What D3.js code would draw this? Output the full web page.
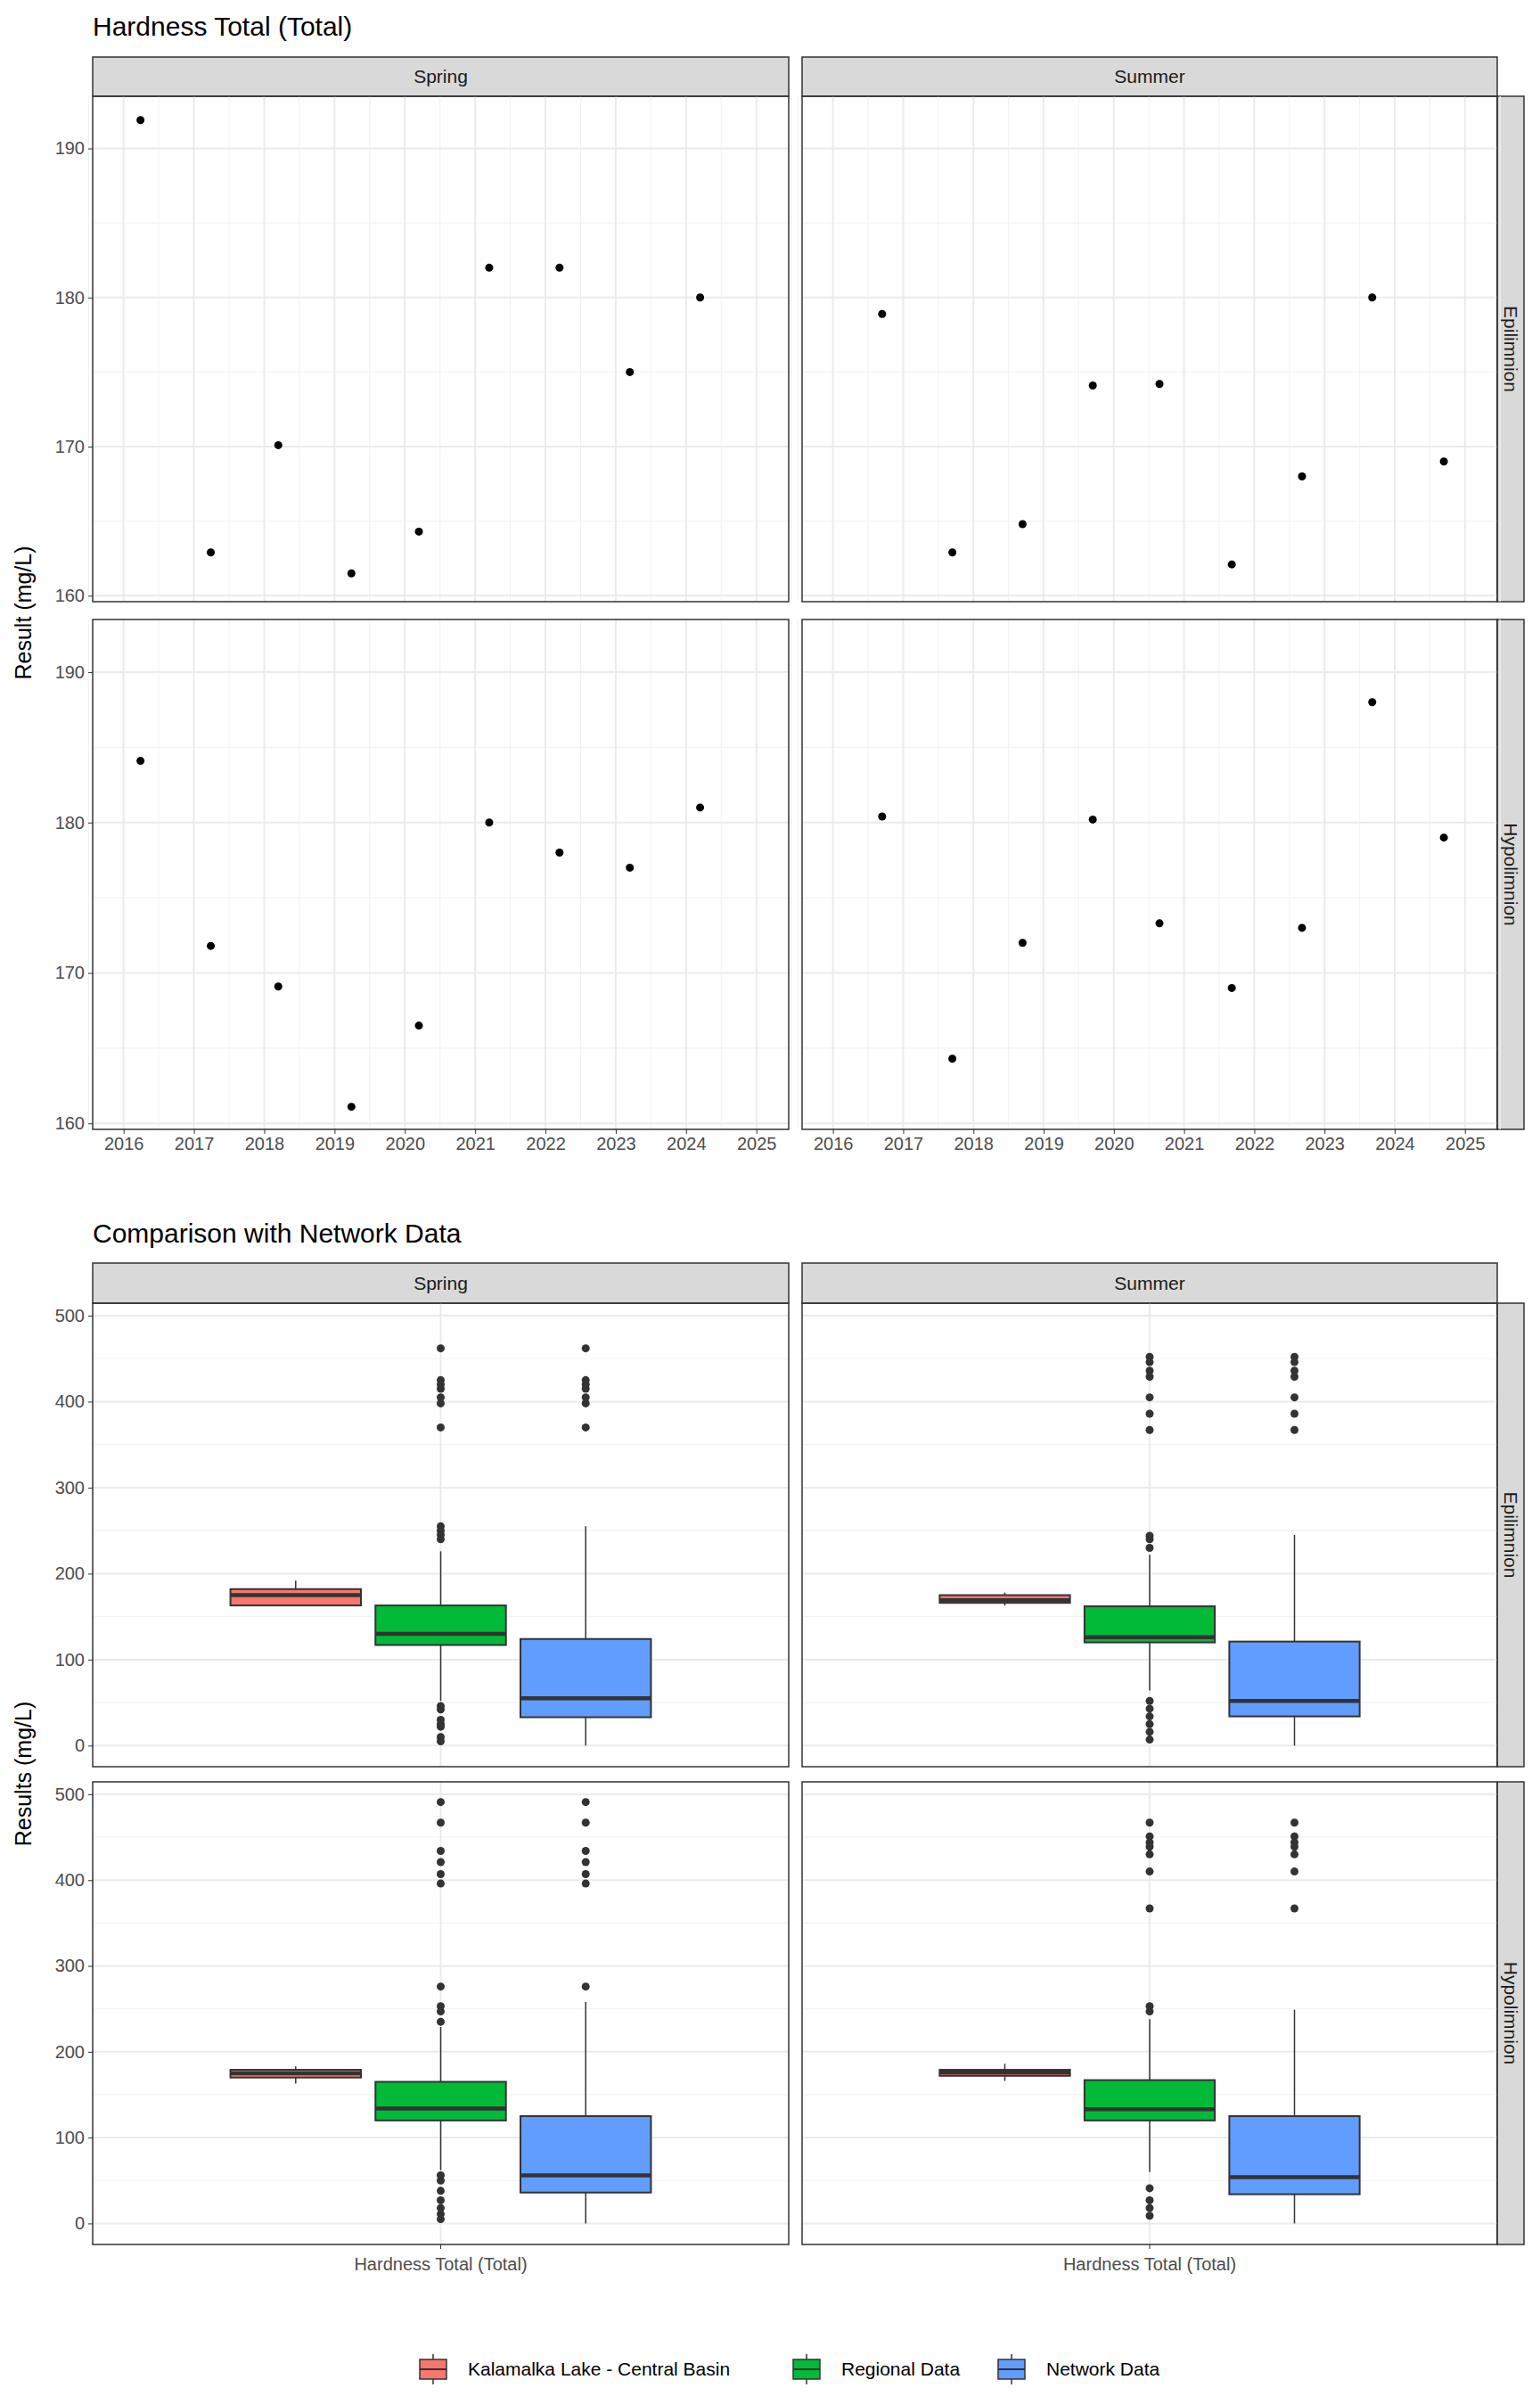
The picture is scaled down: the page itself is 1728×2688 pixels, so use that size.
<!DOCTYPE html>
<html><head><meta charset="utf-8">
<script src="https://cdn.jsdelivr.net/npm/d3@7"></script>
<style>body{margin:0;background:#fff}text{font-family:"Liberation Sans",Arial,sans-serif}</style>
</head><body><div id="container"></div>
<script>
const W = 1728, H = 2688;
const seasons = ["Spring", "Summer"];
const depths = ["Epilimnion", "Hypolimnion"];
const yearTicks = [2016, 2017, 2018, 2019, 2020, 2021, 2022, 2023, 2024, 2025];
const springDates = [2016.24, 2017.24, 2018.2, 2019.24, 2020.2, 2021.2, 2022.2, 2023.2, 2024.2];
const summerDates = [2016.7, 2017.7, 2018.7, 2019.7, 2020.65, 2021.68, 2022.68, 2023.68, 2024.7];
const epiSpring = [191.9, 162.9, 170.1, 161.5, 164.3, 182, 182, 175, 180];
const epiSummer = [178.9, 162.9, 164.8, 174.1, 174.2, 162.1, 168, 180, 169];
const hypoSpring = [184.1, 171.8, 169.1, 161.1, 166.5, 180, 178, 177, 181];
const hypoSummer = [180.4, 164.3, 172, 180.2, 173.3, 169, 173, 188, 179];

const groups = ["Kalamalka Lake - Central Basin", "Regional Data", "Network Data"];
const groupColors = ["#F8766D", "#00BA38", "#619CFF"];
// box stats per panel: [lowWhisker, q1, median, q3, highWhisker]
const boxEpiSpring = [[162, 163, 175, 182, 192], [52, 117, 130, 163, 226], [0, 33, 55, 124, 255]];
const boxEpiSummer = [[163, 166, 169, 175, 178], [64, 120, 126, 162, 222], [0, 34, 52, 121, 245]];
const boxHypoSpring = [[163, 170, 175, 179, 183], [62, 120, 134, 165, 229], [0, 36, 56, 125, 258]];
const boxHypoSummer = [[166, 172, 176, 179, 186], [60, 120, 133, 167, 238], [0, 34, 54, 125, 249]];
const outEpiSpring = [[], [255, 250, 245, 240, 370, 398, 405, 415, 420, 425, 462, 46, 42, 30, 25, 22, 10, 5], [370, 398, 405, 415, 420, 425, 462]];
const outEpiSummer = [[], [452, 446, 436, 429, 405, 386, 367, 244, 240, 230, 52, 43, 34, 25, 16, 7], [452, 446, 436, 429, 405, 386, 367]];
const outHypoSpring = [[], [491, 467, 434, 421, 407, 396, 276, 253, 247, 235, 56, 50, 38, 27, 18, 11, 5], [491, 467, 434, 421, 407, 396, 276]];
const outHypoSummer = [[], [467, 451, 444, 439, 430, 410, 367, 253, 247, 41, 27, 18, 9], [467, 451, 444, 439, 430, 410, 367]];
const boxYTicks = [0, 100, 200, 300, 400, 500];
const scatterYTicks = [160, 170, 180, 190];

const svg = d3.select("#container").append("svg").attr("width", W).attr("height", H);

const colX = [[104, 885], [900, 1680]];
const stripW = 30;

function strips(top, stripH, rowYs) {
    colX.forEach((c, i) => {
        svg.append("rect").attr("x", c[0]).attr("y", top).attr("width", c[1] - c[0]).attr("height", stripH)
            .attr("fill", "#d9d9d9").attr("stroke", "#333").attr("stroke-width", 1.5);
        svg.append("text").attr("x", (c[0] + c[1]) / 2).attr("y", top + stripH / 2 + 7)
            .attr("text-anchor", "middle").attr("font-size", 21).attr("fill", "#1a1a1a").text(seasons[i]);
    });
    rowYs.forEach((r, j) => {
        svg.append("rect").attr("x", colX[1][1]).attr("y", r[0]).attr("width", stripW).attr("height", r[1] - r[0])
            .attr("fill", "#d9d9d9").attr("stroke", "#333").attr("stroke-width", 1.5);
        const cy = (r[0] + r[1]) / 2;
        svg.append("text").attr("transform", `translate(${colX[1][1] + stripW / 2 - 7},${cy}) rotate(90)`)
            .attr("text-anchor", "middle").attr("font-size", 21).attr("fill", "#1a1a1a").text(depths[j]);
    });
}

function frame(x0, x1, y0, y1) {
    svg.append("rect").attr("x", x0).attr("y", y0).attr("width", x1 - x0).attr("height", y1 - y0)
        .attr("fill", "none").attr("stroke", "#333").attr("stroke-width", 1.5);
}

function yAxis(y, ticks, x0) {
    const g = svg.append("g").attr("transform", `translate(${x0},0)`)
        .call(d3.axisLeft(y).tickValues(ticks).tickSize(5).tickPadding(4));
    g.select(".domain").remove();
    g.selectAll("line").attr("stroke", "#333");
    g.selectAll("text").attr("font-size", 20).attr("fill", "#4d4d4d").style("font-family", "Liberation Sans, Arial");
}

// ---------- Top: scatter ----------
svg.append("text").attr("x", 104).attr("y", 40).attr("font-size", 30).attr("fill", "#000").text("Hardness Total (Total)");
const topRows = [[108, 675], [695, 1267]];
strips(64, 44, topRows);
const scatterData = [[[springDates, epiSpring], [summerDates, epiSummer]], [[springDates, hypoSpring], [summerDates, hypoSummer]]];

topRows.forEach((r, j) => {
    const y = d3.scaleLinear().domain([159.6, 193.5]).range([r[1], r[0]]);
    colX.forEach((c, i) => {
        const x = d3.scaleLinear().domain([2015.56, 2025.46]).range([c[0], c[1]]);
        const g = svg.append("g");
        d3.range(2015.5, 2025.6, 1).forEach(v => g.append("line").attr("x1", x(v)).attr("x2", x(v)).attr("y1", r[0]).attr("y2", r[1]).attr("stroke", "#f3f3f3").attr("stroke-width", 1.2));
        [165, 175, 185].forEach(v => g.append("line").attr("x1", c[0]).attr("x2", c[1]).attr("y1", y(v)).attr("y2", y(v)).attr("stroke", "#f3f3f3").attr("stroke-width", 1.2));
        yearTicks.forEach(v => g.append("line").attr("x1", x(v)).attr("x2", x(v)).attr("y1", r[0]).attr("y2", r[1]).attr("stroke", "#ebebeb").attr("stroke-width", 2));
        scatterYTicks.forEach(v => g.append("line").attr("x1", c[0]).attr("x2", c[1]).attr("y1", y(v)).attr("y2", y(v)).attr("stroke", "#ebebeb").attr("stroke-width", 2));
        const [dates, vals] = scatterData[j][i];
        g.selectAll("circle").data(vals).join("circle")
            .attr("cx", (d, k) => x(dates[k])).attr("cy", d => y(d)).attr("r", 4.5).attr("fill", "#000");
        frame(c[0], c[1], r[0], r[1]);
        if (j === 1) {
            const ga = svg.append("g").attr("transform", `translate(0,${r[1]})`)
                .call(d3.axisBottom(x).tickValues(yearTicks).tickFormat(d3.format("d")).tickSize(5).tickPadding(4));
            ga.select(".domain").remove();
            ga.selectAll("line").attr("stroke", "#333");
            ga.selectAll("text").attr("font-size", 20).attr("fill", "#4d4d4d").style("font-family", "Liberation Sans, Arial");
        }
    });
    yAxis(y, scatterYTicks, 104);
});
svg.append("text").attr("transform", `translate(35,${(108 + 1267) / 2}) rotate(-90)`).attr("text-anchor", "middle")
    .attr("font-size", 25).attr("fill", "#000").text("Result (mg/L)");

// ---------- Bottom: boxplots ----------
svg.append("text").attr("x", 104).attr("y", 1394).attr("font-size", 30).attr("fill", "#000").text("Comparison with Network Data");
const botRows = [[1462, 1982], [1999, 2518]];
strips(1417, 45, botRows);
const boxData = [[boxEpiSpring, boxEpiSummer], [boxHypoSpring, boxHypoSummer]];
const outData = [[outEpiSpring, outEpiSummer], [outHypoSpring, outHypoSummer]];

botRows.forEach((r, j) => {
    const y = d3.scaleLinear().domain([-24.5, 514.5]).range([r[1], r[0]]);
    colX.forEach((c, i) => {
        const x = d3.scaleLinear().domain([0.4, 1.6]).range([c[0], c[1]]);
        const g = svg.append("g");
        [50, 150, 250, 350, 450].forEach(v => g.append("line").attr("x1", c[0]).attr("x2", c[1]).attr("y1", y(v)).attr("y2", y(v)).attr("stroke", "#f3f3f3").attr("stroke-width", 1.2));
        boxYTicks.forEach(v => g.append("line").attr("x1", c[0]).attr("x2", c[1]).attr("y1", y(v)).attr("y2", y(v)).attr("stroke", "#ebebeb").attr("stroke-width", 2));
        g.append("line").attr("x1", x(1)).attr("x2", x(1)).attr("y1", r[0]).attr("y2", r[1]).attr("stroke", "#ebebeb").attr("stroke-width", 2);
        boxData[j][i].forEach((s, k) => {
            const cx = x(1 + (k - 1) * 0.25);
            const hw = x(0.4 + 0.1125) - x(0.4);
            g.append("line").attr("x1", cx).attr("x2", cx).attr("y1", y(s[0])).attr("y2", y(s[4])).attr("stroke", "#333").attr("stroke-width", 1.5);
            g.append("rect").attr("x", cx - hw).attr("width", 2 * hw).attr("y", y(s[3])).attr("height", y(s[1]) - y(s[3]))
                .attr("fill", groupColors[k]).attr("stroke", "#333").attr("stroke-width", 2);
            g.append("line").attr("x1", cx - hw).attr("x2", cx + hw).attr("y1", y(s[2])).attr("y2", y(s[2])).attr("stroke", "#333").attr("stroke-width", 4.5);
            g.selectAll(null).data(outData[j][i][k]).join("circle")
                .attr("cx", cx).attr("cy", d => y(d)).attr("r", 4.5).attr("fill", "#333");
        });
        frame(c[0], c[1], r[0], r[1]);
        if (j === 1) {
            svg.append("line").attr("x1", x(1)).attr("x2", x(1)).attr("y1", r[1]).attr("y2", r[1] + 5).attr("stroke", "#333");
            svg.append("text").attr("x", x(1)).attr("y", r[1] + 29).attr("text-anchor", "middle")
                .attr("font-size", 20).attr("fill", "#4d4d4d").text("Hardness Total (Total)");
        }
    });
    yAxis(y, boxYTicks, 104);
});
svg.append("text").attr("transform", `translate(35,${(1462 + 2518) / 2}) rotate(-90)`).attr("text-anchor", "middle")
    .attr("font-size", 25).attr("fill", "#000").text("Results (mg/L)");

// legend
const legX = [469, 888, 1118];
groups.forEach((gname, k) => {
    const lx = legX[k], ly = 2658;
    const g = svg.append("g");
    g.append("line").attr("x1", lx + 17).attr("x2", lx + 17).attr("y1", ly - 17).attr("y2", ly + 17).attr("stroke", "#333").attr("stroke-width", 1.5);
    g.append("rect").attr("x", lx + 2).attr("y", ly - 11).attr("width", 30).attr("height", 22).attr("fill", groupColors[k]).attr("stroke", "#333").attr("stroke-width", 1.5);
    g.append("line").attr("x1", lx + 2).attr("x2", lx + 32).attr("y1", ly).attr("y2", ly).attr("stroke", "#333").attr("stroke-width", 2);
    g.append("text").attr("x", lx + 56).attr("y", ly + 7).attr("font-size", 21).attr("fill", "#000").text(gname);
});
</script></body></html>
